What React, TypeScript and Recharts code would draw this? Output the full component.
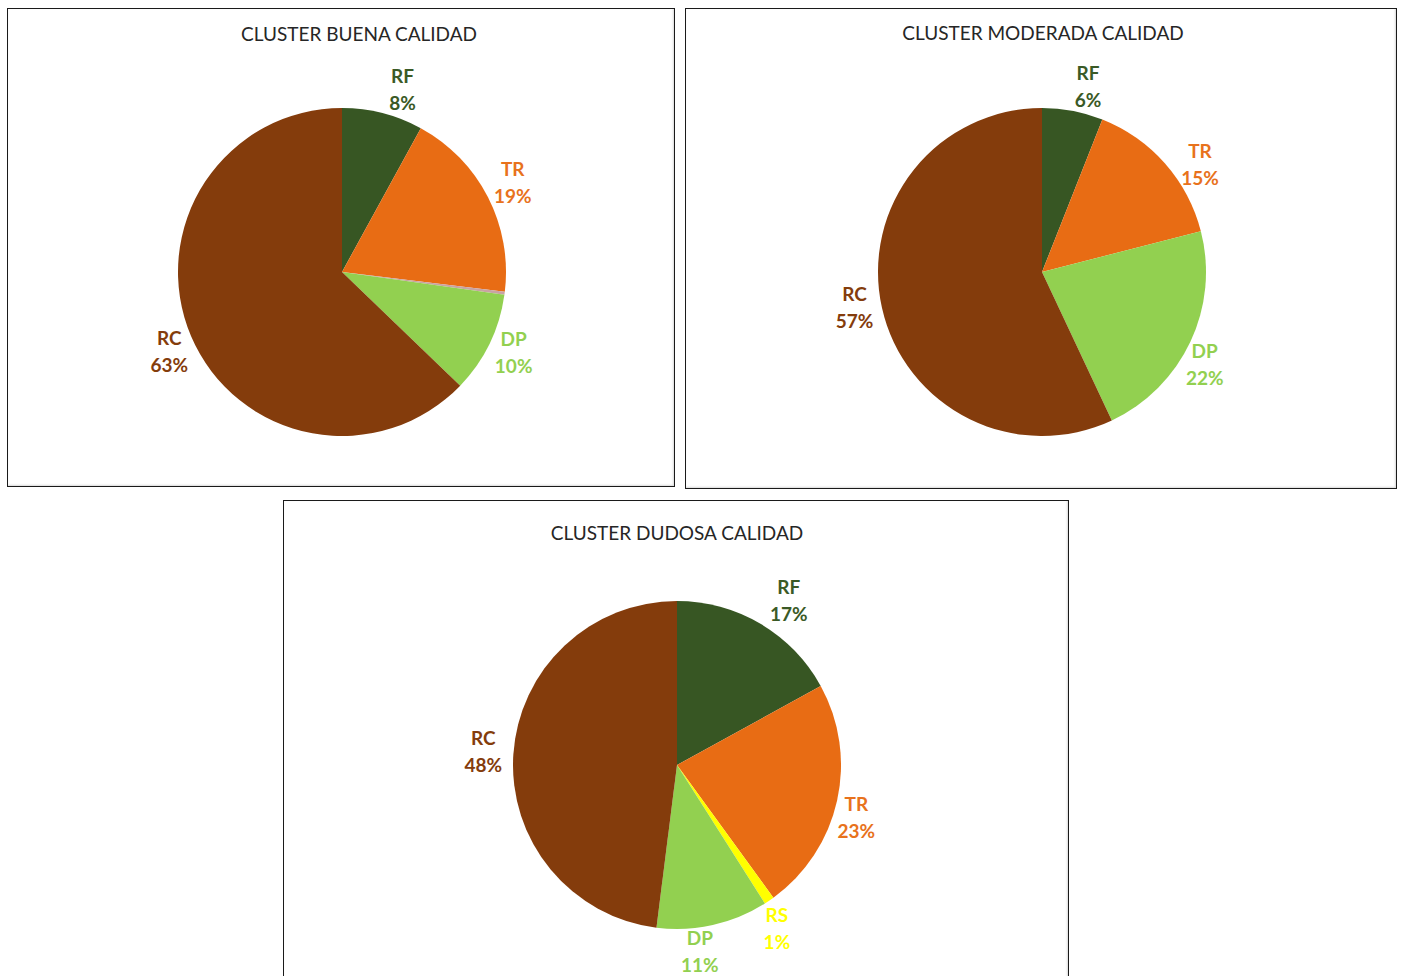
import { PieChart, Pie, Cell } from 'recharts'

const RADIAN = Math.PI / 180

// colores tipo Excel
const COLORS: Record<string, string> = {
  RF: '#375623',
  TR: '#E86C14',
  RS: '#FFFF00',
  DP: '#92D050',
  RC: '#843C0C',
  X: '#C9A3A3',
}
const LABEL_COLORS: Record<string, string> = {
  RF: '#3A5A26',
  TR: '#E8721C',
  RS: '#FFFF00',
  DP: '#92D050',
  RC: '#843C0C',
  X: '#C9A3A3',
}

// Cluster buena calidad (linea fina entre TR y DP sin etiqueta)
const buenaNames = ['RF', 'TR', 'X', 'DP', 'RC']
const buenaValues = [8, 19, 0.3, 10, 63]

const moderadaNames = ['RF', 'TR', 'DP', 'RC']
const moderadaValues = [6, 15, 22, 57]

const dudosaNames = ['RF', 'TR', 'RS', 'DP', 'RC']
const dudosaValues = [17, 23, 1, 11, 48]

// ajuste fino de etiquetas (Excel "best fit")
const buenaShift: Record<string, [number, number]> = {
  RF: [13, 4], TR: [0, -1], DP: [-1, -3], RC: [4, 5],
}
const moderadaShift: Record<string, [number, number]> = {
  RF: [10, 4], TR: [14, 20], DP: [-11, 11], RC: [0, -6],
}
const dudosaShift: Record<string, [number, number]> = {
  RF: [14, 1], TR: [-8, 11], RS: [-8, 5], DP: [-19, 0], RC: [-2, -1],
}

const toData = (names: string[], values: number[]) =>
  names.map((name, i) => ({ name, value: values[i] }))

const makeLabel = (shift: Record<string, [number, number]>) => (props: any) => {
  const { cx, cy, midAngle, outerRadius, name, value } = props
  if (name === 'X') return null
  const r = outerRadius + 28
  const [dx, dy] = shift[name] || [0, 0]
  const x = cx + r * Math.cos(-midAngle * RADIAN) + dx
  const y = cy + r * Math.sin(-midAngle * RADIAN) + dy
  const color = LABEL_COLORS[name]
  return (
    <text
      x={x}
      y={y}
      textAnchor="middle"
      fill={color}
      fontFamily="Lato, 'Open Sans', sans-serif"
      fontWeight={700}
      fontSize={19}
    >
      <tspan x={x} y={y - 7}>{name}</tspan>
      <tspan x={x} y={y + 20}>{`${Math.round(value)}%`}</tspan>
    </text>
  )
}

interface PanelProps {
  title: string
  left: number
  top: number
  width: number
  height: number
  cx: number
  cy: number
  titleX: number
  titleY: number
  names: string[]
  values: number[]
  shift: Record<string, [number, number]>
}

function Panel({ title, left, top, width, height, cx, cy, titleX, titleY, names, values, shift }: PanelProps) {
  const data = toData(names, values)
  return (
    <div
      style={{
        position: 'absolute',
        left,
        top,
        width,
        height,
        boxSizing: 'border-box',
        border: '1.5px solid #1a1a1a',
        boxShadow: 'inset -1px -1px 2px rgba(0,0,0,0.15)',
        background: '#fff',
      }}
    >
      <div
        style={{
          position: 'absolute',
          left: titleX - 200,
          width: 400,
          top: titleY,
          textAlign: 'center',
          fontFamily: "Lato, 'Open Sans', sans-serif",
          fontSize: 19,
          color: '#262626',
          lineHeight: '22px',
        }}
      >
        {title}
      </div>
      <div style={{ position: 'absolute', left: -2, top: -2 }}>
        <PieChart width={width} height={height} margin={{ top: 0, right: 0, bottom: 0, left: 0 }}>
          <defs>
            <filter id="soft" x="-10%" y="-10%" width="120%" height="120%">
              <feDropShadow dx="0" dy="0" stdDeviation="3" floodColor="#000" floodOpacity="0.18" />
            </filter>
          </defs>
          <Pie
            data={data}
            dataKey="value"
            nameKey="name"
            cx={cx}
            cy={cy}
            outerRadius={164}
            startAngle={90}
            endAngle={-270}
            stroke="none"
            labelLine={false}
            label={makeLabel(shift)}
            isAnimationActive={false}
          >
            {data.map((d) => (
              <Cell key={d.name} fill={COLORS[d.name]} />
            ))}
          </Pie>
        </PieChart>
      </div>
    </div>
  )
}

export default function App() {
  return (
    <div
      style={{
        position: 'absolute',
        left: 0,
        top: 0,
        width: 1405,
        height: 976,
        overflow: 'hidden',
        background: '#fff',
      }}
    >
      <Panel
        title="CLUSTER BUENA CALIDAD"
        left={7}
        top={8}
        width={668}
        height={479}
        cx={336}
        cy={265}
        titleX={351}
        titleY={14}
        names={buenaNames}
        values={buenaValues}
        shift={buenaShift}
      />
      <Panel
        title="CLUSTER MODERADA CALIDAD"
        left={685}
        top={8}
        width={712}
        height={481}
        cx={358}
        cy={265}
        titleX={357}
        titleY={13}
        names={moderadaNames}
        values={moderadaValues}
        shift={moderadaShift}
      />
      <Panel
        title="CLUSTER DUDOSA CALIDAD"
        left={283}
        top={500}
        width={786}
        height={500}
        cx={395}
        cy={266}
        titleX={393}
        titleY={21}
        names={dudosaNames}
        values={dudosaValues}
        shift={dudosaShift}
      />
    </div>
  )
}
